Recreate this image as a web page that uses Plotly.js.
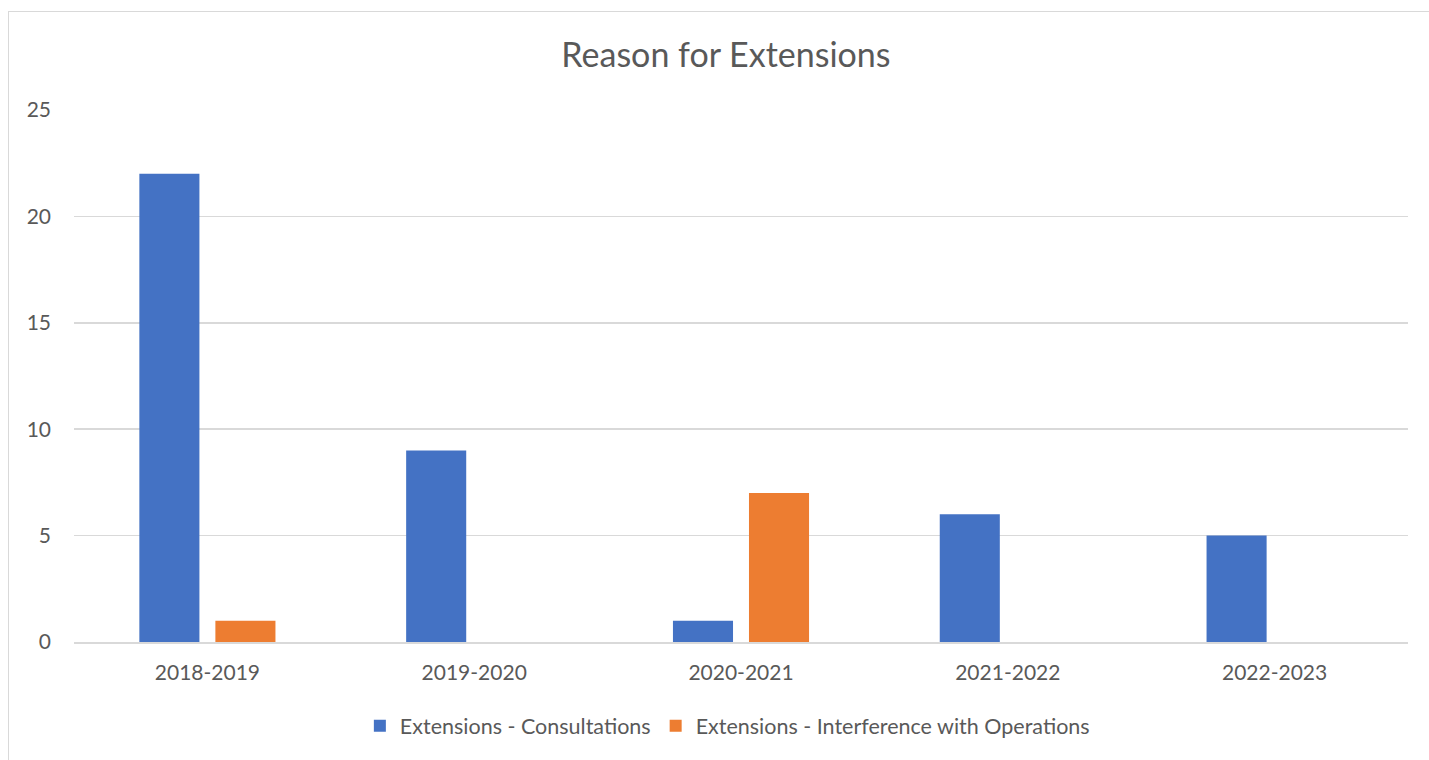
<!DOCTYPE html>
<html>
<head>
<meta charset="utf-8">
<script src="https://cdn.plot.ly/plotly-3.0.1.min.js"></script>
<style>
html,body{margin:0;padding:0;background:#fff;overflow:hidden;}
#chart{width:1429px;height:760px;position:absolute;left:0;top:0;}
#frame{position:absolute;left:8px;top:11px;width:1440px;height:780px;border:1.5px solid #d9d9d9;pointer-events:none;}
</style>
</head>
<body>
<div id="chart"></div>
<div id="frame"></div>
<script>
const categories = ["2018-2019","2019-2020","2020-2021","2021-2022","2022-2023"];
const consultations = [22, 9, 1, 6, 5];
const interference = [1, 0, 7, 0, 0];
const seriesNames = ["Extensions - Consultations","Extensions - Interference with Operations"];
const yTicks = [0,5,10,15,20,25];

const FONT = "Lato, 'Open Sans', sans-serif";
const traces = [
  {type:"bar", name:seriesNames[0], x:categories, y:consultations, marker:{color:"#4472C4"}},
  {type:"bar", name:seriesNames[1], x:categories, y:interference, marker:{color:"#ED7D31"}}
];
const layout = {
  width:1429, height:760,
  margin:{l:74, r:21, t:110, b:118},
  paper_bgcolor:"rgba(0,0,0,0)", plot_bgcolor:"#fff",
  font:{family:FONT, color:"#595959", size:20},
  title:{text:"Reason for Extensions", font:{family:FONT, size:34, color:"#595959"}, x:0.508, xanchor:"center", y:0.927, yanchor:"middle", xref:"container", yref:"container"},
  barmode:"group", bargap:0.43, bargroupgap:0.21,
  xaxis:{type:"category", showgrid:false, showline:true, linecolor:"#d9d9d9", linewidth:1.5, ticks:"", tickfont:{size:21, color:"#595959"}, ticklabelstandoff:11, fixedrange:true},
  yaxis:{range:[0,25], tickvals:yTicks, showgrid:true, gridcolor:"#d9d9d9", gridwidth:1.5, zeroline:false, showline:false, ticks:"", tickfont:{size:21, color:"#595959"}, ticklabelstandoff:22, fixedrange:true},
  showlegend:true,
  legend:{orientation:"h", x:0.509, xanchor:"center", xref:"container", y:0.045, yanchor:"middle", yref:"container", font:{size:21.5, color:"#595959"}, itemwidth:30, traceorder:"normal", itemclick:false}
};
Plotly.newPlot("chart", traces, layout, {displayModeBar:false, staticPlot:true});
</script>
</body>
</html>
